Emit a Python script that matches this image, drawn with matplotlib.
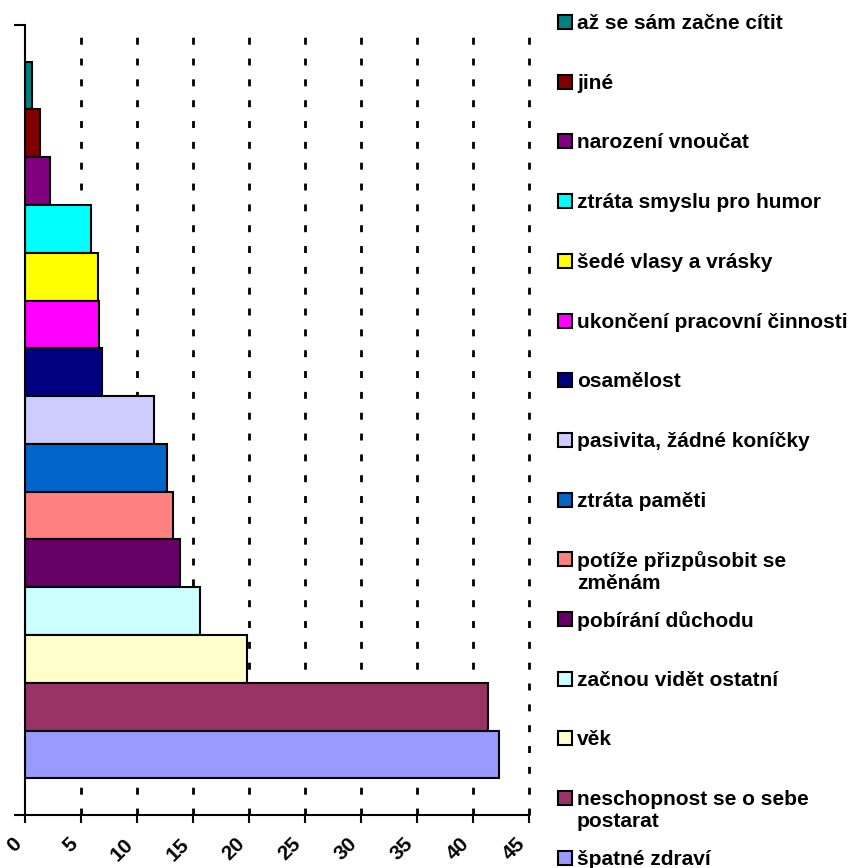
import matplotlib.pyplot as plt
from matplotlib.patches import Rectangle

plt.rcParams['font.family'] = ['Liberation Sans', 'DejaVu Sans']

# --- data (top to bottom, same order as legend) ---
labels = [
    'až se sám začne cítit',
    'jiné',
    'narození vnoučat',
    'ztráta smyslu pro humor',
    'šedé vlasy a vrásky',
    'ukončení pracovní činnosti',
    'osamělost',
    'pasivita, žádné koníčky',
    'ztráta paměti',
    'potíže přizpůsobit se\nzměnám',
    'pobírání důchodu',
    'začnou vidět ostatní',
    'věk',
    'neschopnost se o sebe\npostarat',
    'špatné zdraví',
]
values = [0.6, 1.3, 2.2, 5.9, 6.5, 6.6, 6.9, 11.5, 12.7, 13.2, 13.8, 15.6, 19.8, 41.3, 42.3]
colors = ['#008080', '#800000', '#800080', '#00FFFF', '#FFFF00', '#FF00FF', '#000080',
          '#CCCCFF', '#0066CC', '#FF8080', '#660066', '#CCFFFF', '#FFFFCC', '#993366', '#9999FF']
xticks = [0, 5, 10, 15, 20, 25, 30, 35, 40, 45]

W, H = 858, 868
fig = plt.figure(figsize=(W / 100, H / 100), dpi=100)
ax = fig.add_axes([25 / W, (H - 815) / H, 504 / W, 790 / H])

n = len(values)
pos = list(range(n))
ax.barh(pos, values, height=1.0, color=colors, edgecolor='black', linewidth=1.5, zorder=3)

margin = 0.765
ax.set_ylim(n - 0.5 + margin, -0.5 - margin)
ax.set_xlim(0, 45)

# dotted vertical gridlines (none at 0, the axis line is there)
for t in xticks[1:]:
    ax.axvline(t, color='black', linewidth=2.0, linestyle=(0, (2.5, 5)),
               zorder=1, clip_on=False)

ax.spines['top'].set_visible(False)
ax.spines['right'].set_visible(False)
ax.spines['left'].set_linewidth(1.5)
ax.spines['bottom'].set_linewidth(1.5)
ax.spines['left'].set_zorder(4)

ax.set_yticks([n - 0.5 + margin, -0.5 - margin])
ax.set_yticklabels([])
ax.tick_params(axis='y', length=8, width=1.5, direction='out')
ax.set_xticks(xticks)
ax.tick_params(axis='x', length=6, width=1.5, direction='out', pad=8)
ax.set_xticklabels([str(t) for t in xticks], rotation=45, ha='right', va='top',
                   fontsize=15, fontweight='bold')

# legend drawn by hand on the right
pitch = 59.7
for i, (lab, col) in enumerate(zip(labels, colors)):
    yc = 22 + i * pitch
    fig.patches.append(Rectangle((558 / W, 1 - (yc + 7) / H), 14 / W, 14 / H,
                                 transform=fig.transFigure, facecolor=col,
                                 edgecolor='black', linewidth=1.5))
    fig.text(577 / W, 1 - (yc - 8) / H, lab, ha='left', va='top', fontsize=15,
             fontweight='bold', linespacing=1.2)

fig.savefig('out.png', dpi=100)
